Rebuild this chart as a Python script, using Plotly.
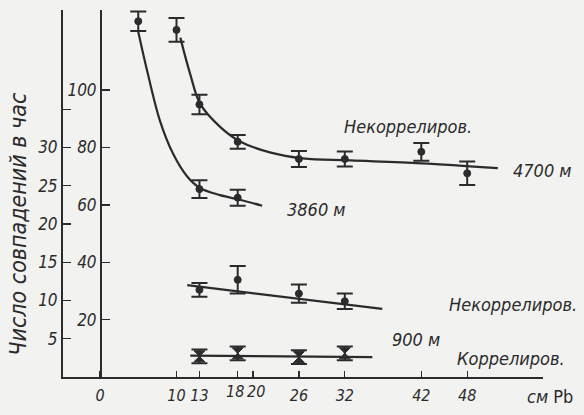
import plotly.graph_objects as go

# ---- data ----
# lead thickness, cm Pb
x_4700 = [10, 13, 18, 26, 32, 42, 48]
y_4700 = [121, 95, 82, 76, 76, 78.5, 71]
e_4700 = [4.1, 3.4, 2.4, 2.8, 2.6, 3.1, 4.1]

x_3860 = [5, 13, 18]
y_3860 = [124, 65.5, 62.5]
e_3860 = [3.4, 3.1, 2.8]

x_900 = [13, 18, 26, 32]
y_900_uncorr = [11.4, 12.7, 10.9, 9.9]
e_900_uncorr = [0.9, 1.8, 1.2, 1.0]
y_900_corr = [2.7, 3.1, 2.6, 3.1]
e_900_corr = [0.9, 0.9, 0.9, 0.9]

# hand-drawn smooth curves
fit4700_x = [10.5, 11.8, 13.1, 15.7, 18.3, 22.2, 26.5, 32.7, 42.0, 52.0]
fit4700_y = [118.3, 105.5, 95.2, 87.2, 82.1, 78.3, 76.2, 75.5, 74.5, 72.8]
fit3860_x = [4.97, 6.27, 7.84, 9.54, 11.37, 13.07, 15.7, 18.4, 21.2]
fit3860_y = [120.7, 105.5, 89.3, 77.9, 70.0, 65.9, 63.4, 61.7, 59.7]
fit900u_x = [11.4, 36.9]
fit900u_y = [12.0, 8.9]
fit900c_x = [11.8, 35.6]
fit900c_y = [2.8, 2.6]

x_ticks = [0, 10, 13, 18, 20, 26, 32, 42, 48]
x_close = [18, 20]            # labels drawn separately (too close together)
inner_ticks = [20, 40, 60, 80, 100]
outer_ticks = [5, 10, 15, 20, 25, 30, 35]
outer_text = ["5", "10", "15", "20", "25", "30", ""]

INK = "#2b2b2b"
BG = "#f2f2f0"
FONT = "DejaVu Sans Condensed, DejaVu Sans, sans-serif"

# geometry (pixels)
W, H = 584, 415
L, R, T, B = 61, 41, 10, 34
PW = W - L - R
PH = H - T - B
X0, XS = 100, 7.65          # pixel of x=0, px per cm
x_range = [(L - X0) / XS, (W - R - X0) / XS]
y_top = PH / 2.9
y_range = [0, y_top]
y2_range = [0, y_top * 3 / 8]

fig = go.Figure()

def curve(x, y, axis, shape="spline"):
    fig.add_trace(go.Scatter(x=x, y=y, mode="lines", yaxis=axis,
                             line=dict(color=INK, width=2.2, shape=shape, smoothing=1.0),
                             hoverinfo="skip", showlegend=False))

def pts(x, y, e, axis, symbol="circle", size=7):
    fig.add_trace(go.Scatter(x=x, y=y, mode="markers", yaxis=axis,
                             marker=dict(symbol=symbol, size=size, color=INK,
                                         line=dict(color=INK, width=1)),
                             error_y=dict(type="data", array=e, visible=True,
                                          color=INK, thickness=2, width=8),
                             showlegend=False))

curve(fit4700_x, fit4700_y, "y")
curve(fit3860_x, fit3860_y, "y")
curve(fit900u_x, fit900u_y, "y2", "linear")
curve(fit900c_x, fit900c_y, "y2", "linear")
pts(x_4700, y_4700, e_4700, "y")
pts(x_3860, y_3860, e_3860, "y")
pts(x_900, y_900_uncorr, e_900_uncorr, "y2")
pts(x_900, y_900_corr, e_900_corr, "y2", symbol="hourglass", size=11)

ytickfont = dict(family=FONT, size=17, color=INK, style="italic")
xtickfont = dict(family=FONT, size=16, color=INK, style="italic")

fig.update_layout(
    width=W, height=H,
    margin=dict(l=L, r=R, t=T, b=B, pad=0),
    paper_bgcolor=BG, plot_bgcolor=BG,
    showlegend=False, hovermode=False,
    xaxis=dict(range=x_range, showgrid=False, zeroline=False, showline=True,
               linecolor=INK, linewidth=1.6, ticks="inside", ticklen=6,
               tickwidth=1.4, tickcolor=INK, tickvals=x_ticks,
               ticktext=["" if v in x_close else str(v) for v in x_ticks],
               tickfont=xtickfont, tickangle=0, ticklabelstandoff=3, anchor="y"),
    yaxis=dict(range=y_range, anchor="free", position=(X0 - L) / PW,
               showgrid=False, zeroline=False, showline=True, linecolor=INK,
               linewidth=1.6, ticks="inside", ticklen=8, tickwidth=1.4,
               tickcolor=INK, tickvals=inner_ticks,
               ticktext=[str(v) for v in inner_ticks], tickfont=ytickfont,
               side="left"),
    yaxis2=dict(range=y2_range, anchor="free", position=0, overlaying="y",
                showgrid=False, zeroline=False, showline=True, linecolor=INK,
                linewidth=1.6, ticks="inside", ticklen=8, tickwidth=1.4,
                tickcolor=INK, tickvals=outer_ticks, ticktext=outer_text,
                tickfont=ytickfont, side="left"),
)

# the two crowded x labels, nudged apart as in the original
for v, shift in zip(x_close, [-3, 3]):
    fig.add_annotation(text=str(v), x=v, xref="x", y=0, yref="paper",
                       yanchor="top", yshift=-3, xshift=shift, showarrow=False,
                       font=xtickfont)

def px2paper(px, py):
    return (px - L) / PW, (H - B - py) / PH

def note(text, px, py, size=18, angle=0, style="italic"):
    xp, yp = px2paper(px, py)
    fig.add_annotation(text=text, x=xp, y=yp, xref="paper", yref="paper",
                       showarrow=False, xanchor="center", yanchor="middle",
                       textangle=angle,
                       font=dict(family=FONT, size=size, color=INK, style=style))

note("Некоррелиров.", 408, 128)
note("4700 м", 542, 172)
note("3860 м", 316, 212)
note("Некоррелиров.", 513, 308)
note("900 м", 416, 343)
note("Коррелиров.", 511, 362)
note("<i>см</i> Pb", 550, 401, size=18, style="normal")
note("Число совпадений в час", 18, 226, size=23, angle=-90)

fig.write_html("out.html",
               config={"displayModeBar": False, "staticPlot": True},
               post_script="document.body.style.margin='0';"
                           "document.body.style.background='" + BG + "';")
